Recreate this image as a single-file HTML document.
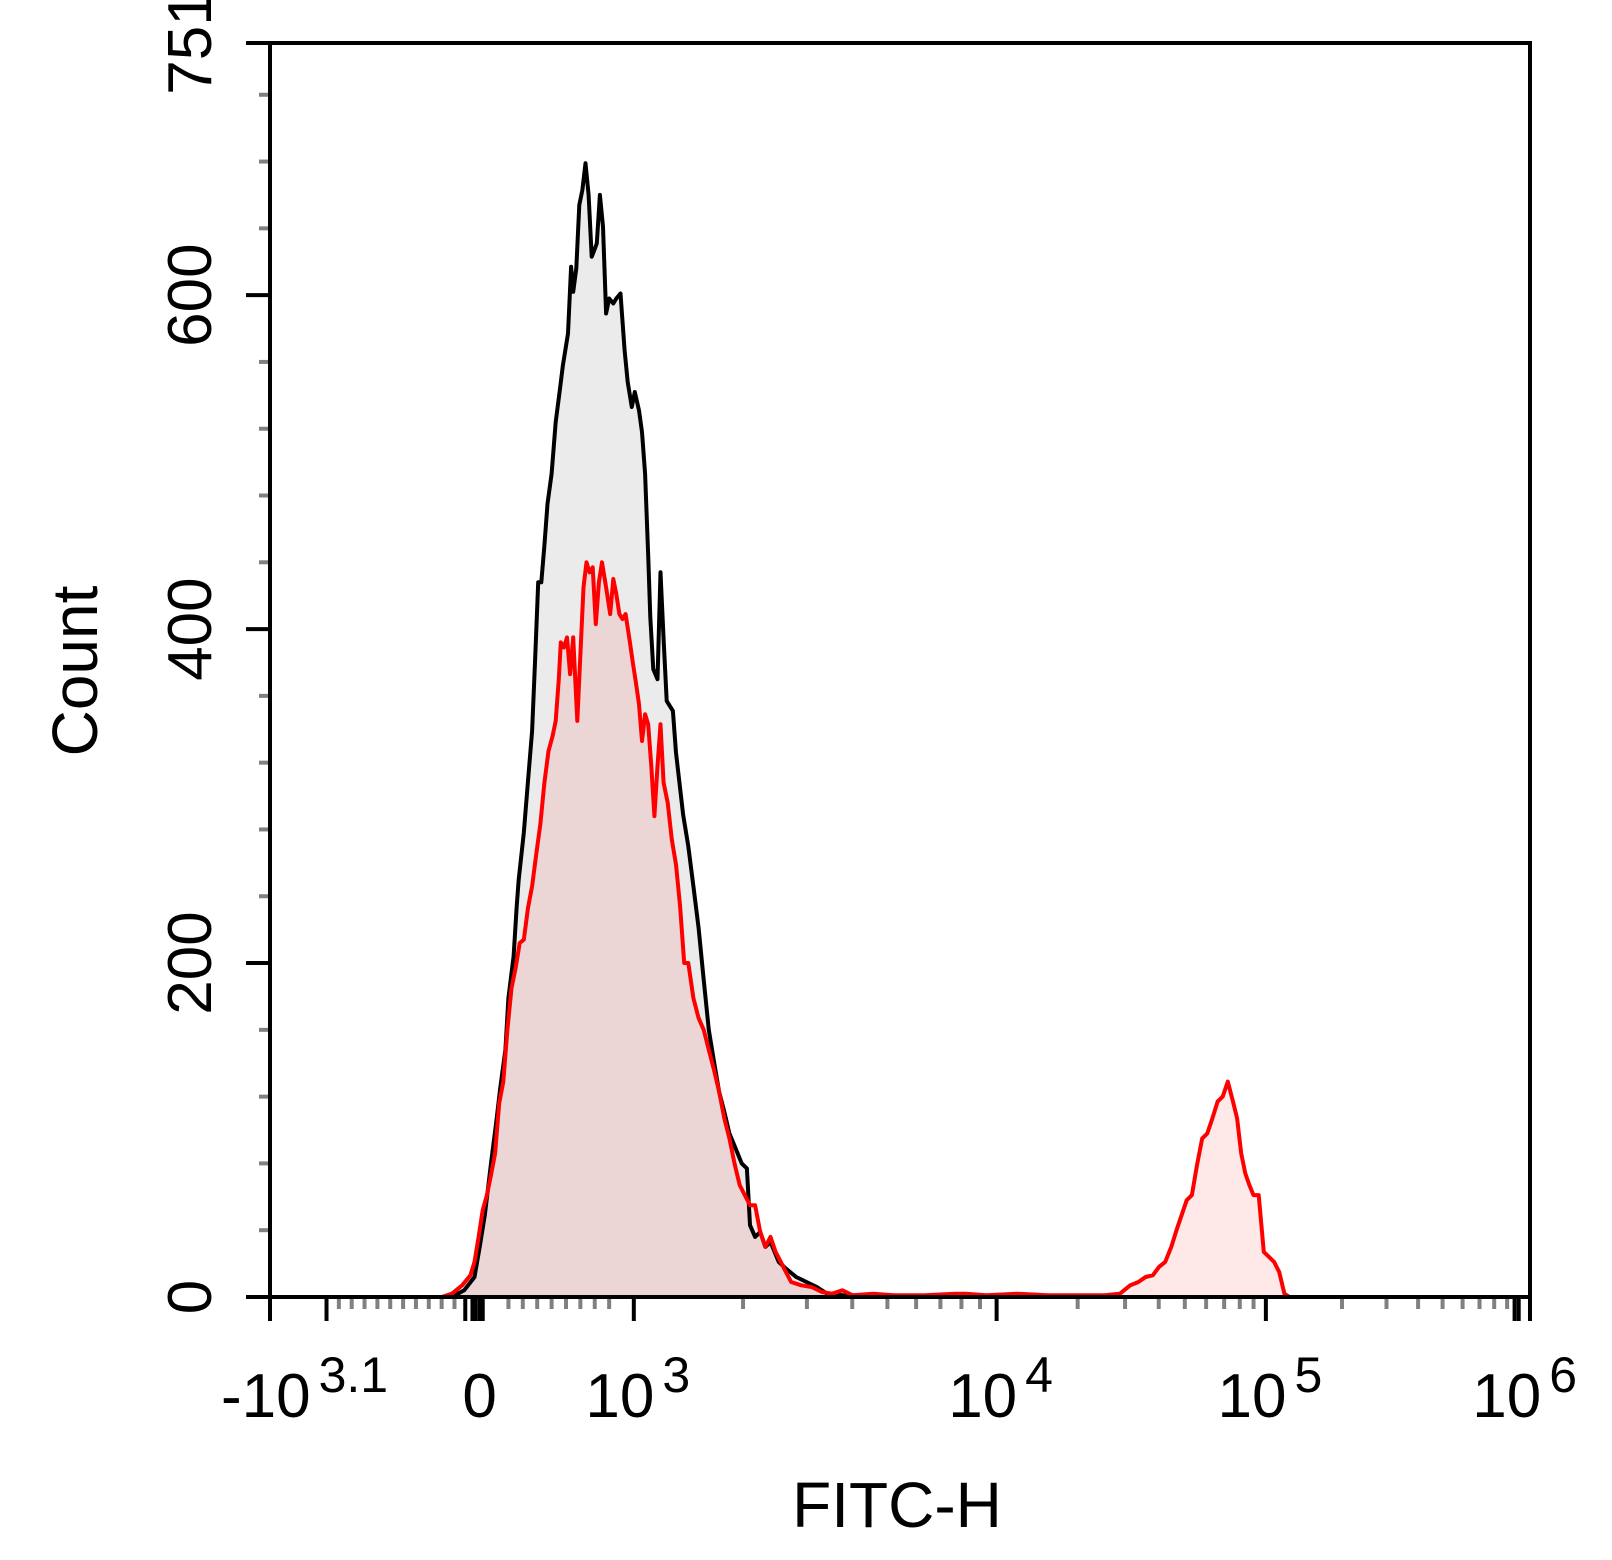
<!DOCTYPE html>
<html><head><meta charset="utf-8"><style>
html,body{margin:0;padding:0;background:#fff;}
svg{display:block;font-family:"Liberation Sans",Arial,sans-serif;}
</style></head><body>
<svg id="chart" width="1612" height="1560" viewBox="0 0 1612 1560" xmlns="http://www.w3.org/2000/svg">
<g id="fills"></g><g id="lines"></g><g id="axes"></g><g id="labels"></g>
</svg>
<script>
// Channel positions (display channel units, 0..1226) and counts
const blackChannels=[177,189,199,204,209,215,220,224,229,232,237,240,242,247,251,255,258,261,264,267,270,274,278,282,285,290,293,295,298,301,304,307,310,313,315,318,321,324,327,330,334,337,341,345,348,352,355,359,362,365,368,370,373,377,380,383,386,392,395,402,407,412,417,422,427,432,437,442,447,453,459,464,467,472,477,482,487,495,502,512,522,532,542,557,577,1217];
const blackCounts=[0,4,12,30,49,80,104,125,148,179,204,234,250,278,309,339,383,428,428,450,475,493,524,543,558,577,617,602,616,654,663,679,660,623,626,631,660,641,589,598,595,598,601,567,548,533,542,531,518,493,444,407,376,370,434,394,357,351,326,289,270,246,221,190,160,141,123,111,98,89,80,77,43,36,39,30,33,21,17,12,9,6,2,1,0,0];
const redChannels=[167,177,187,195,199,203,207,211,215,219,223,227,231,235,239,243,247,251,255,259,263,267,271,275,278,281,283,286,289,292,295,299,302,305,308,311,314,317,320,323,327,331,334,337,340,343,346,350,353,356,359,362,365,368,371,374,377,380,383,387,391,395,399,403,407,412,417,422,427,432,437,442,447,452,457,462,467,472,477,482,487,492,497,502,507,517,527,537,547,557,567,587,607,637,667,677,697,727,757,787,812,827,837,845,852,859,865,871,877,882,887,892,897,902,907,912,917,922,927,932,937,941,945,949,953,957,962,967,972,977,982,987,992,1217];
const redCounts=[0,2,7,13,21,36,52,61,73,86,116,129,160,185,197,212,214,233,246,265,283,308,327,336,345,370,392,389,395,373,395,345,385,425,440,434,437,403,428,440,425,409,430,421,409,406,409,393,380,368,355,333,349,343,318,288,318,343,308,296,274,259,234,200,200,179,167,160,148,136,123,107,95,80,67,61,55,55,39,30,36,27,21,15,9,7,6,3,2,4,1,2,1,1,2,2,1,2,1,1,1,2,7,9,12,13,18,21,30,40,49,58,61,79,95,98,107,117,120,129,117,107,86,74,67,61,61,27,24,21,15,2,0,0];
const yTickValues=[0,200,400,600,751];
const yTickLabels=["0","200","400","600","751"];
const yMinorValues=[40,80,120,160,240,280,320,360,440,480,520,560,640,680,720];
const xTickChannels=[55,204,354,707,969,1215];
const xTickBase=["-10","0","10","10","10","10"];
const xTickExp=["3.1","","3","4","5","6"];

const X0=270,X1=1530,Y0=1297,Y1=43,CMAX=1226,YMAX=751;
const xS=c=>X0+c*(X1-X0)/CMAX;
const yS=v=>Y0-v*(Y0-Y1)/YMAX;
const NS="http://www.w3.org/2000/svg";
function mk(tag,parent,attrs){const e=document.createElementNS(NS,tag);for(const k in attrs)e.setAttribute(k,attrs[k]);document.getElementById(parent).appendChild(e);return e;}
function pts(cs,vs){return cs.map((c,i)=>xS(c).toFixed(1)+","+yS(vs[i]).toFixed(1)).join(" ");}

// fills
let f1=mk("polygon","fills",{points:xS(blackChannels[0])+","+Y0+" "+pts(blackChannels,blackCounts)+" "+xS(blackChannels[blackChannels.length-1])+","+Y0,fill:"#ebebeb"});


let f2=mk("polygon","fills",{points:xS(redChannels[0])+","+Y0+" "+pts(redChannels,redCounts)+" "+xS(redChannels[redChannels.length-1])+","+Y0,fill:"rgba(245,0,0,0.09)"});


let l1=mk("polyline","lines",{points:pts(blackChannels,blackCounts),fill:"none",stroke:"#000","stroke-width":4,"stroke-linejoin":"round"});


let l2=mk("polyline","lines",{points:pts(redChannels,redCounts),fill:"none",stroke:"#f00","stroke-width":4,"stroke-linejoin":"round"});



// frame
let fr=mk("rect","axes",{x:X0,y:Y1,width:X1-X0,height:Y0-Y1,fill:"none",stroke:"#000","stroke-width":4});



// y ticks
yTickValues.forEach((v,i)=>{
 let t=mk("line","axes",{x1:X0-24,x2:X0,y1:yS(v),y2:yS(v),stroke:"#000","stroke-width":4});
 
 
 let tx=mk("text","labels",{transform:`translate(211,${yS(v)}) rotate(-90)`,"text-anchor":"middle","font-size":62,fill:"#000"});
 tx.textContent=yTickLabels[i];
 
 
});
yMinorValues.forEach(v=>{
 let t=mk("line","axes",{x1:X0-11,x2:X0-2,y1:yS(v),y2:yS(v),stroke:"#808080","stroke-width":4});
 
 
});

// x ticks
xTickChannels.forEach((c,i)=>{
 let t=mk("line","axes",{x1:xS(c),x2:xS(c),y1:Y0,y2:Y0+24,stroke:"#000","stroke-width":4});
 
 
});
// left edge & right edge & zero cluster ticks
[0,1226,1211,190,197,200,207].forEach(c=>{
 let t=mk("line","axes",{x1:xS(c),x2:xS(c),y1:Y0,y2:Y0+24,stroke:"#000","stroke-width":4});
 
 
});
// minor ticks
const minorCh=[];
for(let c=67;c<=188;c+=12.5)minorCh.push(c);
for(let c=232;c<=340;c+=14)minorCh.push(c);
[[354,707],[707,969],[969,1215]].forEach(([a,b])=>{for(let k=2;k<=9;k++)minorCh.push(a+(b-a)*Math.log10(k));});
minorCh.forEach(c=>{
 let t=mk("line","axes",{x1:xS(c),x2:xS(c),y1:Y0+2,y2:Y0+12,stroke:"#808080","stroke-width":4});
 
 
});
// x labels
const xLabelShift=[-22,0,4,4,4,6];
xTickChannels.forEach((c,i)=>{
 let tx=mk("text","labels",{x:xS(c)+xLabelShift[i],y:1417,"text-anchor":"middle","font-size":62,fill:"#000"});
 
 
 let b=document.createElementNS(NS,"tspan");b.textContent=xTickBase[i];tx.appendChild(b);
 if(xTickExp[i]){let e=document.createElementNS(NS,"tspan");e.setAttribute("dy","-25");e.setAttribute("dx","8");e.setAttribute("font-size","50");e.textContent=xTickExp[i];tx.appendChild(e);}
});
// axis titles
let yt=mk("text","labels",{transform:"translate(97,671) rotate(-90)","text-anchor":"middle","font-size":64,fill:"#000"});
yt.textContent="Count";


let xt=mk("text","labels",{x:897,y:1527,"text-anchor":"middle","font-size":64,fill:"#000"});
xt.textContent="FITC-H";


</script>
</body></html>
